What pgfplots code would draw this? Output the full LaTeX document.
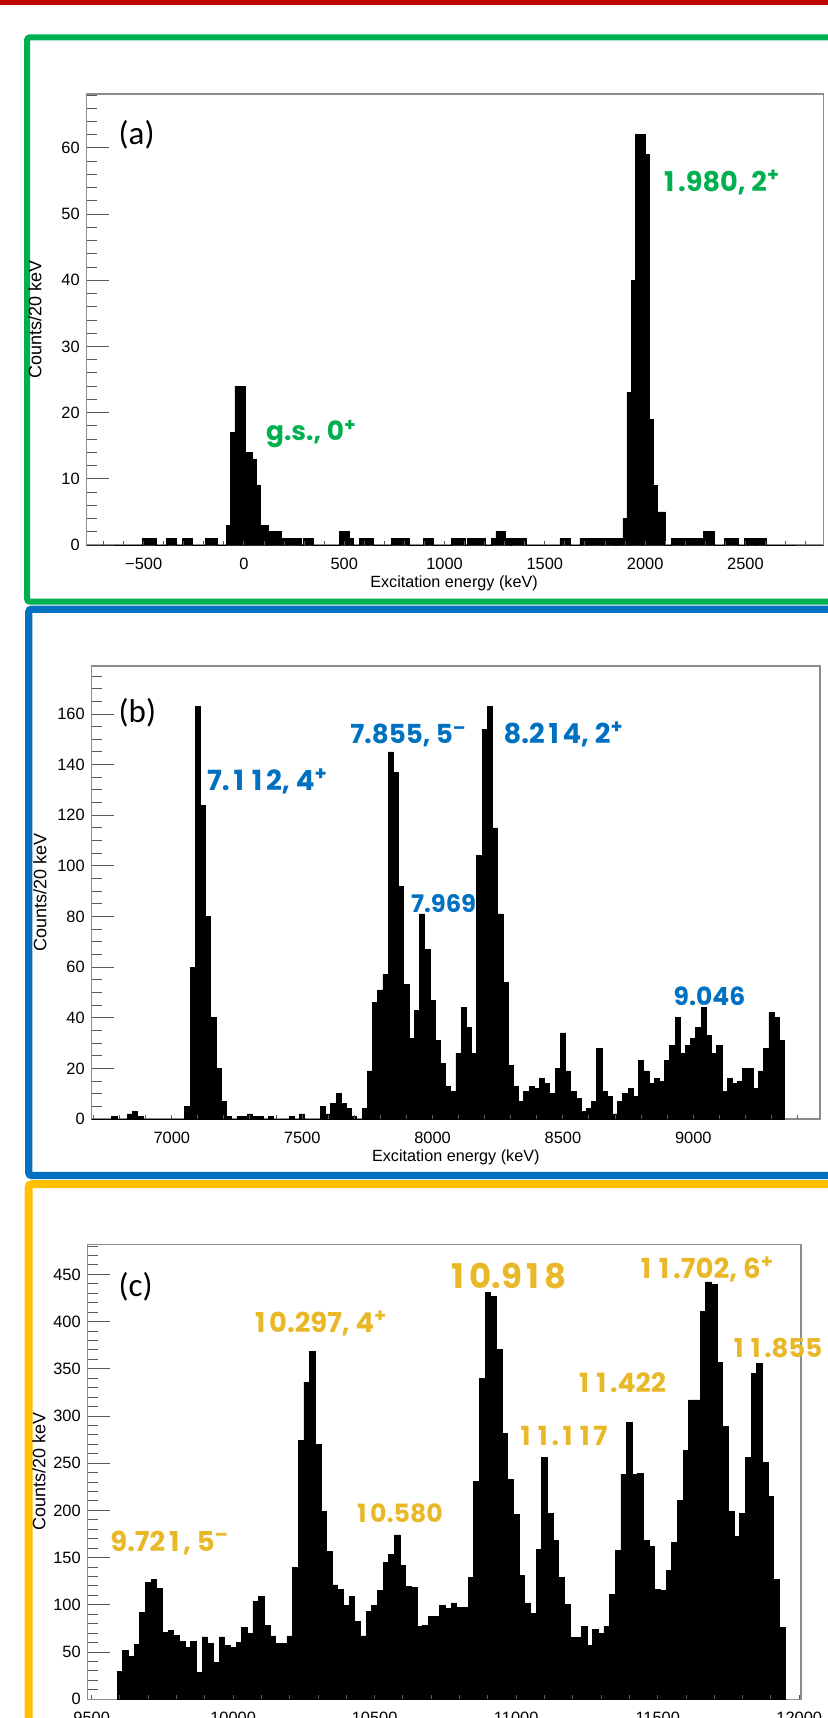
\documentclass[border=0pt]{standalone}
\usepackage{pgfplots}
\pgfplotsset{compat=1.18}
\usepackage{pgfplotstable}
\usepackage{fontspec}
\setmainfont{Liberation Sans}
\newfontfamily\annfont{Poppins}
\newfontfamily\panelfont{Carlito}

\definecolor{barred}{RGB}{192,0,0}
\definecolor{frgreen}{RGB}{0,176,80}
\definecolor{frblue}{RGB}{0,112,192}
\definecolor{fryellow}{RGB}{255,192,0}
\definecolor{txyellow}{RGB}{233,184,40}

% spectrum (b): left bin edge (keV), counts per 20 keV bin
\pgfplotstableread{
E N
6690 0
6770 1
6790 0
6830 2
6850 3
6870 1
6890 0
7050 5
7070 60
7090 163
7110 124
7130 80
7150 40
7170 20
7190 7
7210 1
7230 0
7250 1
7270 1
7290 2
7310 1
7330 1
7350 0
7370 1
7390 0
7450 1
7470 0
7490 2
7510 0
7570 5
7590 2
7610 6
7630 10
7650 6
7670 4
7690 1
7710 0
7730 4
7750 19
7770 46
7790 51
7810 57
7830 145
7850 137
7870 92
7890 53
7910 32
7930 43
7950 81
7970 67
7990 47
8010 31
8030 22
8050 13
8070 11
8090 26
8110 44
8130 36
8150 26
8170 104
8190 154
8210 163
8230 115
8250 81
8270 54
8290 21
8310 13
8330 7
8350 11
8370 13
8390 12
8410 16
8430 14
8450 10
8470 20
8490 34
8510 19
8530 11
8550 8
8570 3
8590 4
8610 7
8630 28
8650 11
8670 9
8690 2
8710 7
8730 10
8750 12
8770 9
8790 23
8810 19
8830 14
8850 16
8870 15
8890 23
8910 29
8930 40
8950 26
8970 29
8990 32
9010 36
9030 44
9050 33
9070 26
9090 29
9110 11
9130 16
9150 14
9170 15
9190 20
9210 20
9230 12
9250 19
9270 28
9290 42
9310 40
9330 31
9350 0
}\spectrumB

% spectrum (c): left bin edge (keV), counts per 20 keV bin
\pgfplotstableread{
E N
9590 29
9610 52
9630 45
9650 58
9670 92
9690 124
9710 127
9730 117
9750 71
9770 73
9790 68
9810 61
9830 55
9850 61
9870 28
9890 66
9910 59
9930 39
9950 66
9970 57
9990 55
10010 60
10030 76
10050 70
10070 104
10090 109
10110 78
10130 67
10150 59
10170 59
10190 67
10210 140
10230 274
10250 336
10270 368
10290 270
10310 199
10330 157
10350 121
10370 116
10390 99
10410 109
10430 82
10450 67
10470 93
10490 99
10510 115
10530 145
10550 153
10570 174
10590 142
10610 119
10630 118
10650 77
10670 78
10690 88
10710 88
10730 99
10750 96
10770 102
10790 97
10810 97
10830 129
10850 231
10870 340
10890 431
10910 427
10930 371
10950 282
10970 233
10990 196
11010 131
11030 102
11050 91
11070 159
11090 256
11110 197
11130 168
11150 129
11170 100
11190 65
11210 65
11230 77
11250 57
11270 74
11290 70
11310 77
11330 111
11350 158
11370 238
11390 293
11410 238
11430 239
11450 168
11470 162
11490 116
11510 115
11530 136
11550 166
11570 211
11590 264
11610 317
11630 317
11650 411
11670 442
11690 439
11710 357
11730 289
11750 199
11770 172
11790 197
11810 256
11830 345
11850 356
11870 251
11890 215
11910 127
11930 76
11950 0
}\spectrumC

\pgfplotsset{
  spectrum/.style={
    scale only axis, anchor=south west,
    tick pos=left, tick align=inside, scaled ticks=false,
    axis line style={black!45, line width=0.6pt},
    tick style={black!65, line width=0.5pt},
    % long ticks on the count axis; the short energy ticks are drawn below
    major tick length=11pt, minor tick length=5.35pt,
    xtick style={draw=none},
    tick label style={font=\fontsize{8.2}{9}\selectfont},
    xticklabel style={yshift=-3.1pt},
    /pgf/number format/assume math mode=true,
    ymin=0,
  },
  histo/.style={const plot, fill=black, draw=black, line width=0.4pt},
}
% short energy-axis ticks every 100 keV
\newcommand\energyticks[1]{%
  \pgfplotsinvokeforeach{#1}{%
    \draw[black!65, line width=0.5pt] (axis cs:##1,0) -- ([yshift=2pt]axis cs:##1,0);}}

% state labels: the digit 1 gets the width of the other figures
\newcommand\one{\hbox to \fontcharwd\font`0{\hss 1\hss}}
\newcommand\ann[1]{\annfont\bfseries\fontsize{#1}{#1}\selectfont}

\begin{document}
\begin{tikzpicture}
\useasboundingbox (0,0) rectangle (414pt,-859pt);
\clip (0,0) rectangle (414pt,-859pt);

% coloured frames, in pixel units
\begin{scope}[x=0.5pt,y=-0.5pt]
  \fill[barred] (0,0) rectangle (828,5.3);
  \draw[frgreen, line width=3pt, rounded corners=1.5pt]
    (840,37.3) -- (27,37.3) -- (27,601.7) -- (840,601.7);
  \draw[frblue, line width=3.65pt, rounded corners=1.5pt]
    (840,609.2) -- (28.7,609.2) -- (28.7,1175.5) -- (840,1175.5);
  \draw[fryellow, line width=4pt, rounded corners=1.5pt]
    (840,1184.2) -- (28.7,1184.2) -- (28.7,1740);
\end{scope}

% (a) low-lying states
\begin{axis}[spectrum, at={(43.35pt,-272.5pt)},
  width=368.3pt, height=225.5pt,
  xmin=-784, xmax=2888, ymax=68.16,
  xtick={-500,0,500,1000,1500,2000,2500},
  xticklabels={−500,0,500,1000,1500,2000,2500},
  ytick={0,10,...,60}, minor ytick={0,2,...,68}]
\addplot[histo] coordinates {
 (-784,0) (-505,1) (-435,0) (-385,1) (-335,0) (-305,1) (-255,0)
 (-190,1) (-133,0) (-86,3) (-66,17) (-45,24) (5,14) (43,13) (63,9)
 (83,3) (123,2) (188,1) (288,0) (296,1) (346,0) (474,2) (525,1)
 (545,0) (575,1) (645,0) (736,1) (825,0) (894,1) (946,0) (1035,1)
 (1105,0) (1115,1) (1206,0) (1235,1) (1256,2) (1304,1) (1326,0)
 (1334,1) (1406,0) (1575,1) (1625,0) (1675,1) (1850,0) (1857,1)
 (1889,4) (1909,23) (1931,40) (1952,62) (2002,59) (2022,19) (2043,9)
 (2063,5) (2101,0) (2132,1) (2290,2) (2345,0) (2394,1) (2464,0)
 (2494,1) (2548,0) (2556,1) (2606,0) (2888,0)
} \closedcycle;
\energyticks{-700,-600,...,2800}
\end{axis}

% (b)
\begin{axis}[spectrum, at={(45.85pt,-559.5pt)},
  width=364.15pt, height=226.55pt,
  xmin=6693, xmax=9486, ymax=179,
  xtick={7000,7500,8000,8500,9000},
  xticklabels={7000,7500,8000,8500,9000},
  ytick={0,20,...,160}, minor ytick={0,5,...,175}]
\addplot[histo] table[x=E,y=N] {\spectrumB} \closedcycle;
\energyticks{6700,6800,...,9400}
\end{axis}

% (c)
\begin{axis}[spectrum, at={(43.85pt,-849.6pt)},
  width=356.6pt, height=227.5pt,
  xmin=9486, xmax=12006, ymax=482,
  xtick={9500,10000,10500,11000,11500,12000},
  xticklabels={9500,10000,10500,11000,11500,12000},
  ytick={0,50,...,450}, minor ytick={0,10,...,480}]
\addplot[histo] table[x=E,y=N] {\spectrumC} \closedcycle;
\energyticks{9500,9600,...,12000}
\end{axis}

% titles and state labels, in pixel units
\begin{scope}[x=0.5pt,y=-0.5pt]
  \begin{scope}[font=\fontsize{9}{10}\selectfont]
    \node[rotate=90] at (35,319) {Counts/20 keV};
    \node[rotate=90] at (40,892) {Counts/20 keV};
    \node[rotate=90] at (39,1471.7) {Counts/20 keV};
  \end{scope}
  \begin{scope}[font=\fontsize{8.1}{9}\selectfont]
    \node at (454,583.5) {Excitation energy (keV)};
    \node at (455.8,1156.8) {Excitation energy (keV)};
  \end{scope}
  \begin{scope}[inner sep=0pt, font=\panelfont\fontsize{16.5}{18}\selectfont]
    \node[anchor=base west] at (118.3,145) {(a)};
    \node[anchor=base west] at (118.3,722) {(b)};
    \node[anchor=base west] at (118.3,1296.7) {(c)};
  \end{scope}
  \begin{scope}[inner sep=0pt]
    \node[anchor=base west, text=frgreen, font=\ann{13.2}] at (265.7,440) {g.s., 0\textsuperscript{+}};
    \node[anchor=base west, text=frgreen, font=\ann{13.6}] at (660,191.7) {\one.980, 2\textsuperscript{+}};
    \node[anchor=base west, text=frblue, font=\ann{13.9}] at (206.7,790.5) {7.\one\one2, 4\textsuperscript{+}};
    \node[anchor=base west, text=frblue, font=\ann{13.1}] at (350,743.5) {7.855, 5\textsuperscript{–}};
    \node[anchor=base west, text=frblue, font=\ann{13.7}] at (503.3,743.5) {8.2\one4, 2\textsuperscript{+}};
    \node[anchor=base west, text=frblue, font=\ann{12.1}] at (410.7,912.6) {7.969};
    \node[anchor=base west, text=frblue, font=\ann{12.5}] at (673.3,1005.1) {9.046};
    \node[anchor=base west, text=txyellow, font=\ann{13.7}] at (251,1332.7) {\one0.297, 4\textsuperscript{+}};
    \node[anchor=base west, text=txyellow, font=\ann{13.7}] at (110,1551.7) {9.72\one, 5\textsuperscript{–}};
    \node[anchor=base west, text=txyellow, font=\ann{12.6}] at (353.3,1522.1) {\one0.580};
    \node[anchor=base west, text=txyellow, font=\ann{17}] at (446.7,1288.4) {\one0.9\one8};
    \node[anchor=base west, text=txyellow, font=\ann{13.2}] at (516.7,1445.3) {\one\one.\one\one7};
    \node[anchor=base west, text=txyellow, font=\ann{13.3}] at (575,1392.8) {\one\one.422};
    \node[anchor=base west, text=txyellow, font=\ann{13.8}] at (636.7,1278.5) {\one\one.702, 6\textsuperscript{+}};
    \node[anchor=base west, text=txyellow, font=\ann{13}] at (730,1357.4) {\one\one.855};
  \end{scope}
\end{scope}
\end{tikzpicture}
\end{document}
